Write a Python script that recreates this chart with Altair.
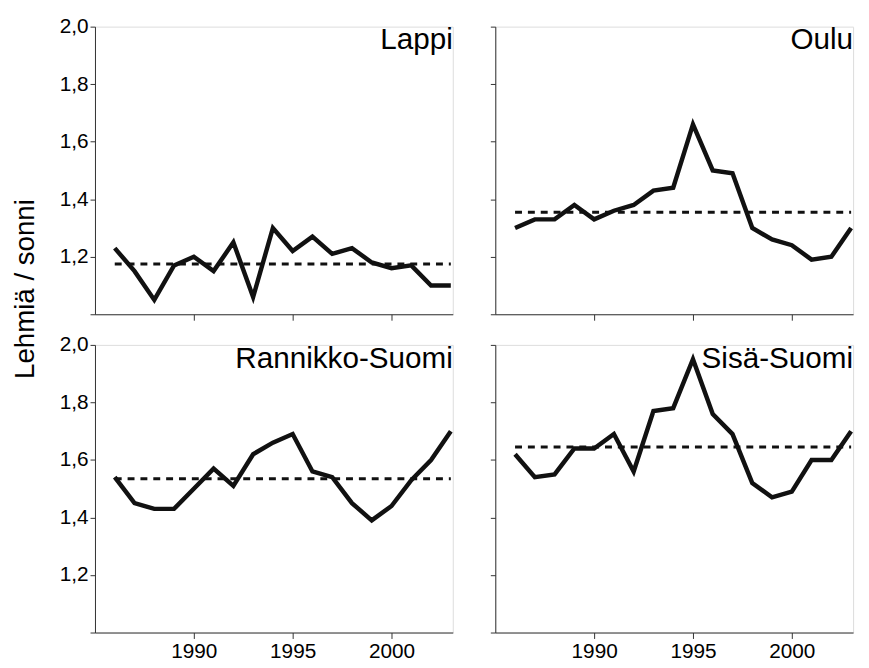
import altair as alt
import pandas as pd

years = [1986, 1987, 1988, 1989, 1990, 1991, 1992, 1993, 1994,
         1995, 1996, 1997, 1998, 1999, 2000, 2001, 2002, 2003]
regions = ["Lappi", "Oulu", "Rannikko-Suomi", "Sisä-Suomi"]
lappi = [1.23, 1.15, 1.05, 1.17, 1.20, 1.15, 1.25, 1.06, 1.30,
         1.22, 1.27, 1.21, 1.23, 1.18, 1.16, 1.17, 1.10, 1.10]
oulu = [1.30, 1.33, 1.33, 1.38, 1.33, 1.36, 1.38, 1.43, 1.44,
        1.66, 1.50, 1.49, 1.30, 1.26, 1.24, 1.19, 1.20, 1.30]
rannikko = [1.54, 1.45, 1.43, 1.43, 1.50, 1.57, 1.51, 1.62, 1.66,
            1.69, 1.56, 1.54, 1.45, 1.39, 1.44, 1.53, 1.60, 1.70]
sisa = [1.62, 1.54, 1.55, 1.64, 1.64, 1.69, 1.56, 1.77, 1.78,
        1.95, 1.76, 1.69, 1.52, 1.47, 1.49, 1.60, 1.60, 1.70]
means = [1.175, 1.355, 1.535, 1.645]
y_ticks = [1.0, 1.1, 1.2, 1.3, 1.4, 1.5, 1.6, 1.7, 1.8, 1.9, 2.0]
x_ticks = [1990, 1995, 2000]
y_title = "Lehmiä / sonni"

series = {"Lappi": lappi, "Oulu": oulu, "Rannikko-Suomi": rannikko, "Sisä-Suomi": sisa}

FONT = "Liberation Sans"
INK = "#111111"
W, H = 362, 291

label_expr = ("(round(datum.value * 10) % 2 == 0 && datum.value > 1.05) ? "
              "replace(format(datum.value, '.1f'), '.', ',') : ''")


def panel(i, name, show_x_labels, show_y_labels):
    df = pd.DataFrame({"year": years, "value": series[name]})
    mdf = pd.DataFrame({"start": [years[0]], "end": [years[-1]], "mean": [means[i]], "name": [name]})

    x_axis = alt.Axis(values=x_ticks, format="d", labels=show_x_labels, grid=False,
                      tickSize=6, tickColor="#333333", domainColor="#333333",
                      labelFontSize=21, labelFont=FONT, labelColor="#000000", labelPadding=2,
                      title=None)
    if i == 0:
        y_axis = alt.Axis(values=y_ticks, labelExpr=label_expr, grid=False, tickSize=5,
                          tickColor="#333333", domainColor="#333333",
                          labelFontSize=21, labelFont=FONT, labelColor="#000000", labelPadding=2,
                          title=y_title, titleFont=FONT, titleFontSize=28,
                          titleFontWeight="normal", titleColor="#000000",
                          titleAngle=270, titleAlign="center", titleBaseline="middle",
                          titleX=-70, titleY=265)
    else:
        y_axis = alt.Axis(values=y_ticks, labelExpr=label_expr, labels=show_y_labels,
                          grid=False, tickSize=5,
                          tickColor="#333333", domainColor="#333333",
                          labelFontSize=21, labelFont=FONT, labelColor="#000000", labelPadding=2,
                          title=None)

    xs = alt.Scale(domain=[1985, 2003.1], nice=False, zero=False)
    ys = alt.Scale(domain=[1.0, 2.0], nice=False, zero=False)

    line = alt.Chart(df).mark_line(color=INK, strokeWidth=4.5, strokeJoin="miter").encode(
        x=alt.X("year:Q", scale=xs, axis=x_axis),
        y=alt.Y("value:Q", scale=ys, axis=y_axis),
    )
    rule = alt.Chart(mdf).mark_rule(color=INK, strokeWidth=3, strokeDash=[7, 6]).encode(
        x=alt.X("start:Q", scale=xs),
        x2="end:Q",
        y=alt.Y("mean:Q", scale=ys),
    )
    text = alt.Chart(mdf).mark_text(align="right", baseline="alphabetic", font=FONT,
                                    fontSize=30, color="#000000").encode(
        x=alt.value(W),
        y=alt.value(23),
        text="name:N",
    )
    return alt.layer(line, rule, text).properties(width=W, height=H)


chart = alt.concat(
    panel(0, "Lappi", False, True),
    panel(1, "Oulu", False, False),
    panel(2, "Rannikko-Suomi", True, True),
    panel(3, "Sisä-Suomi", True, False),
    columns=2, spacing={"row": 31, "column": 43}, bounds="flush",
).properties(
    padding={"left": 3, "top": 3, "right": 0, "bottom": 0}
).configure_view(stroke=None).configure(font=FONT)

chart.save("out.html", embed_options={"renderer": "svg", "actions": False})
